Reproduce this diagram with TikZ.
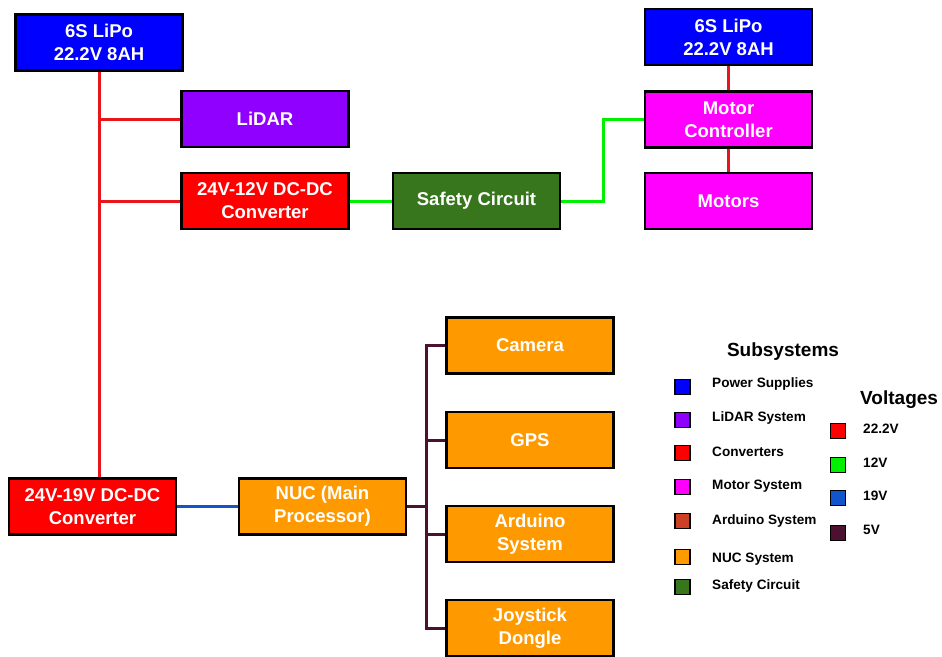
\documentclass[tikz,border=0pt]{standalone}
\usepackage{fontspec}
\setmainfont{Liberation Sans}
\pgfdeclarelayer{bg}
\pgfsetlayers{bg,main}
\definecolor{cpower}{HTML}{0000FF}
\definecolor{clidar}{HTML}{8F00FF}
\definecolor{cconv}{HTML}{FF0000}
\definecolor{cmotor}{HTML}{FF00FF}
\definecolor{carduino}{HTML}{CC4125}
\definecolor{cnuc}{HTML}{FF9900}
\definecolor{csafety}{HTML}{38761D}
\definecolor{vred}{HTML}{E8161B}
\definecolor{vgreen}{HTML}{00F000}
\definecolor{vblue}{HTML}{1155CC}
\definecolor{vdark}{HTML}{4C1130}
\tikzset{
  blk/.style={draw=black, line width=2.4pt, rectangle, minimum width=167pt, minimum height=56pt,
    inner sep=0pt, align=center, text=white, font=\bfseries\fontsize{18.5}{23}\selectfont},
  wire/.style={line width=3pt},
  w22/.style={wire, draw=vred},
  w12/.style={wire, draw=vgreen},
  w19/.style={wire, draw=vblue},
  w5/.style={wire, draw=vdark},
  sq/.style={draw=black, line width=1.4pt, minimum width=15pt, minimum height=15pt, inner sep=0pt},
  lbl/.style={anchor=west, inner sep=0pt, font=\bfseries\fontsize{13.6}{16}\selectfont},
  ttl/.style={inner sep=0pt, font=\bfseries\fontsize{19}{22}\selectfont}
}
\begin{document}
\begin{tikzpicture}[x=1pt, y=-1pt]
\useasboundingbox (0,0) rectangle (942,656);
% nodes
\node[blk, fill=cpower] (bat1) at (99,42.5) {6S LiPo\\22.2V 8AH};
\node[blk, fill=clidar] (lidar) at (265,119) {LiDAR};
\node[blk, fill=cconv] (conv12) at (265,201) {24V-12V DC-DC\\Converter};
\node[blk, fill=csafety] (safety) at (476.5,201) {Safety Circuit};
\node[blk, fill=cpower] (bat2) at (728.5,37) {6S LiPo\\22.2V 8AH};
\node[blk, fill=cmotor] (mc) at (728.5,119.5) {Motor\\Controller};
\node[blk, fill=cmotor] (motors) at (728.5,201) {Motors};
\node[blk, fill=cconv] (conv19) at (92.5,506.5) {24V-19V DC-DC\\Converter};
\node[blk, fill=cnuc] (nuc) at (322.5,506.5) {NUC (Main\\Processor)};
\node[blk, fill=cnuc] (cam) at (530,345.5) {Camera};
\node[blk, fill=cnuc] (gps) at (530,440) {GPS};
\node[blk, fill=cnuc] (ard) at (530,534) {Arduino\\System};
\node[blk, fill=cnuc] (joy) at (530,628) {Joystick\\Dongle};
\coordinate (bus) at (426,506.5);
% connectors
\begin{pgfonlayer}{bg}
\fill[white] (0,0) rectangle (942,656);
\draw[w22] (bat1.south) -- (bat1.south |- conv19.north);
\draw[w22] (bat1.south |- lidar.west) -- (lidar.west);
\draw[w22] (bat1.south |- conv12.west) -- (conv12.west);
\draw[w12] (conv12.east) -- (safety.west);
\draw[w12] (safety.east) -- ++(42,0) |- (mc.west);
\draw[w22] (bat2.south) -- (mc.north);
\draw[w22] (mc.south) -- (motors.north);
\draw[w19] (conv19.east) -- (nuc.west);
\draw[w5] (nuc.east) -- (bus);
\draw[w5] (cam.west) -- (cam.west -| bus) -- (joy.west -| bus) -- (joy.west);
\draw[w5] (gps.west) -- (gps.west -| bus);
\draw[w5] (ard.west) -- (ard.west -| bus);
\end{pgfonlayer}
% legend
\node[ttl] (subt) at (783,352) {Subsystems};
\node[sq, fill=cpower] (s1) at (682.5,387) {};
\node[sq, fill=clidar] (s2) at (682.5,420) {};
\node[sq, fill=cconv] (s3) at (682.5,453) {};
\node[sq, fill=cmotor] (s4) at (682.5,487) {};
\node[sq, fill=carduino] (s5) at (682.5,521) {};
\node[sq, fill=cnuc] (s6) at (682.5,557) {};
\node[sq, fill=csafety] (s7) at (682.5,587) {};
\node[lbl] (l1) at (712,384) {Power Supplies};
\node[lbl] (l2) at (712,418) {LiDAR System};
\node[lbl] (l3) at (712,452) {Converters};
\node[lbl] (l4) at (712,486) {Motor System};
\node[lbl] (l5) at (712,521) {Arduino System};
\node[lbl] (l6) at (712,559) {NUC System};
\node[lbl] (l7) at (712,586) {Safety Circuit};
\node[ttl, anchor=west] (vt) at (860,400) {Voltages};
\node[sq, fill=cconv] (v1) at (838,431) {};
\node[sq, fill=vgreen] (v2) at (838,465) {};
\node[sq, fill=vblue] (v3) at (838,498) {};
\node[sq, fill=vdark] (v4) at (838,533) {};
\node[lbl] (vl1) at (863,429) {22.2V};
\node[lbl] (vl2) at (863,463) {12V};
\node[lbl] (vl3) at (863,496) {19V};
\node[lbl] (vl4) at (863,530) {5V};
\end{tikzpicture}
\end{document}
